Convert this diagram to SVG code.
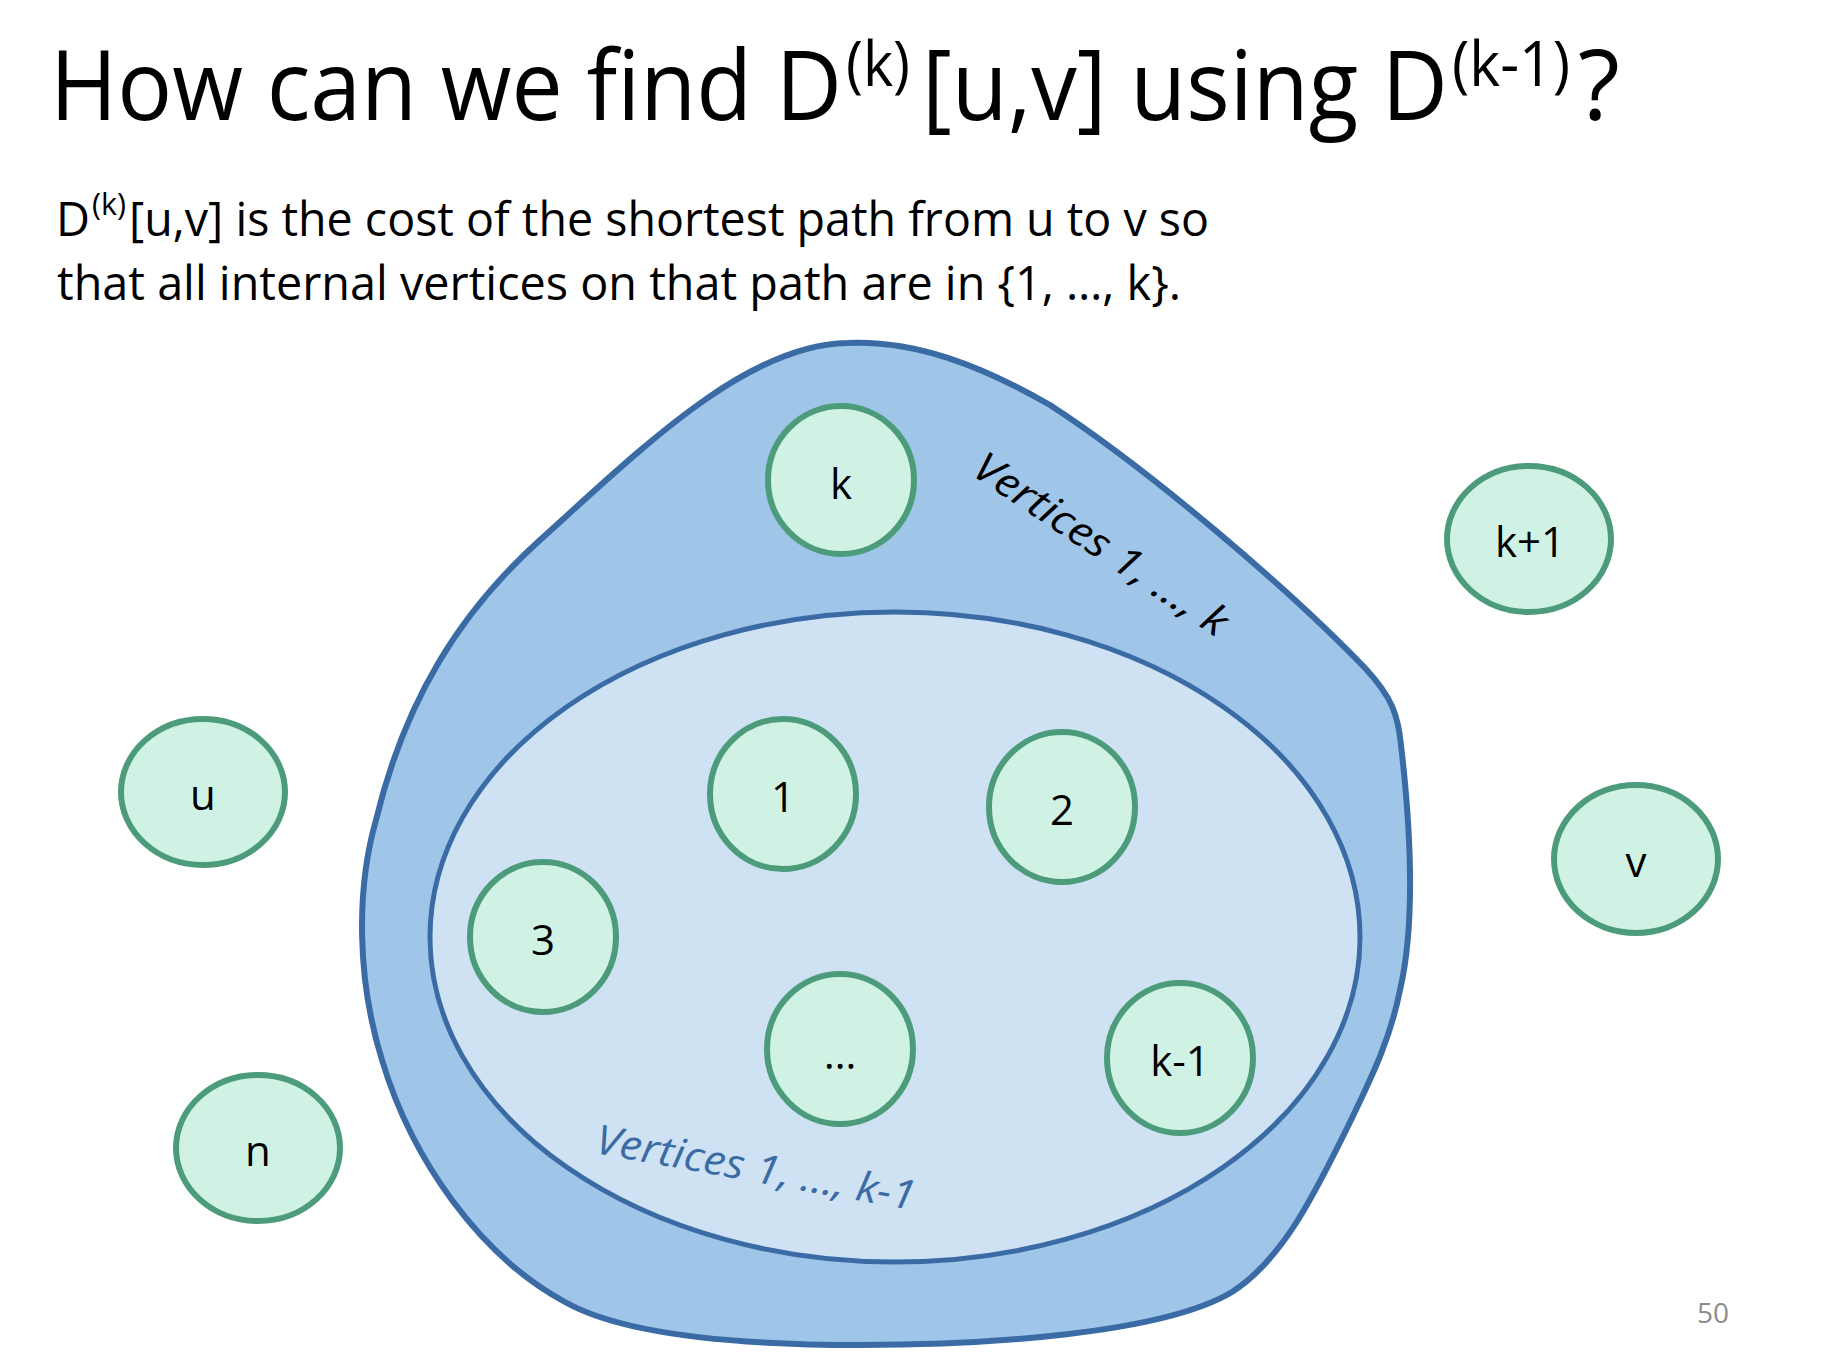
<svg xmlns="http://www.w3.org/2000/svg" width="1844" height="1372" viewBox="0 0 1844 1372">
  <style>
    .title { font-family: "Open Sans", "Noto Sans", sans-serif; font-size: 97px; fill: #000; }
    .sup { font-size: 62px; }
    .sub { font-family: "Open Sans", "Noto Sans", sans-serif; font-size: 47px; fill: #000; }
    .node ellipse { fill: #D0F2E5; stroke: #4C9B7B; stroke-width: 6; }
    .node text { font-family: "Open Sans", "Noto Sans", sans-serif; font-size: 42px; fill: #000; text-anchor: middle; }
    .set-label { font-family: "Open Sans", "Noto Sans", sans-serif; font-style: italic; font-size: 41px; }
    .pg { font-family: "Open Sans", "Noto Sans", sans-serif; font-size: 28px; fill: #8C8C8C; text-anchor: middle; }
  </style>
  <rect width="1844" height="1372" fill="#FFFFFF"/>

  <g id="title">
    <text class="title" y="120"><tspan x="50" textLength="792" lengthAdjust="spacingAndGlyphs">How can we find D</tspan><tspan class="sup" x="846" y="86" textLength="64" lengthAdjust="spacingAndGlyphs">(k)</tspan><tspan x="922" y="120" textLength="526" lengthAdjust="spacingAndGlyphs">[u,v] using D</tspan><tspan class="sup" x="1452" y="86" textLength="118" lengthAdjust="spacingAndGlyphs">(k-1)</tspan><tspan x="1578" y="120">?</tspan></text>
  </g>

  <g id="definition">
    <text class="sub" y="236"><tspan x="56" textLength="34" lengthAdjust="spacingAndGlyphs">D</tspan><tspan x="92" y="215" font-size="31" textLength="34" lengthAdjust="spacingAndGlyphs">(k)</tspan><tspan x="129" y="236" textLength="1080" lengthAdjust="spacingAndGlyphs">[u,v] is the cost of the shortest path from u to v so</tspan></text>
    <text class="sub" x="57" y="300" textLength="1124" lengthAdjust="spacingAndGlyphs">that all internal vertices on that path are in {1, …, k}.</text>
  </g>

  <g id="set-k">
    <path d="M 847 343 C 915 340 980 365 1050 405 C 1150 470 1290 590 1365 668 C 1392 697 1398 715 1401 745 C 1412 840 1414 930 1400 990 C 1390 1040 1372 1076 1352 1118 C 1314 1196 1282 1260 1232 1292 C 1162 1334 985 1345 860 1345 C 740 1345 625 1336 565 1302 C 480 1256 412 1160 382 1060 C 357 980 356 890 376 820 C 405 700 460 612 540 540 C 640 450 745 345 847 343 Z" fill="#9FC5E8" stroke="#3A6BA5" stroke-width="6"/>
    <text class="set-label" fill="#000" transform="translate(970 474) rotate(33.6)" textLength="296" lengthAdjust="spacingAndGlyphs">Vertices 1, …, k</text>
  </g>

  <g id="set-k-1">
    <ellipse cx="895" cy="937" rx="465" ry="325" fill="#CFE2F3" stroke="#3A6BA5" stroke-width="5"/>
    <text class="set-label" fill="#3A6BA5" transform="translate(594 1153) rotate(10.2)" textLength="324" lengthAdjust="spacingAndGlyphs">Vertices 1, …, k-1</text>
  </g>

  <g id="connectors"></g>

  <g id="node-k" class="node"><ellipse cx="841" cy="480" rx="73" ry="74"/><text x="841" y="499">k</text></g>
  <g id="node-k1" class="node"><ellipse cx="1529" cy="539" rx="82" ry="73"/><text x="1530" y="557">k+1</text></g>
  <g id="node-u" class="node"><ellipse cx="203" cy="792" rx="82" ry="73"/><text x="203" y="810">u</text></g>
  <g id="node-1" class="node"><ellipse cx="783" cy="794" rx="73" ry="75"/><text x="783" y="812">1</text></g>
  <g id="node-2" class="node"><ellipse cx="1062" cy="807" rx="73" ry="75"/><text x="1062" y="825">2</text></g>
  <g id="node-v" class="node"><ellipse cx="1636" cy="859" rx="82" ry="74"/><text x="1636" y="877">v</text></g>
  <g id="node-3" class="node"><ellipse cx="543" cy="937" rx="73" ry="75"/><text x="543" y="955">3</text></g>
  <g id="node-dots" class="node"><ellipse cx="840" cy="1049" rx="73" ry="75"/><text x="840" y="1069">…</text></g>
  <g id="node-k-1" class="node"><ellipse cx="1180" cy="1058" rx="73" ry="75"/><text x="1180" y="1076">k-1</text></g>
  <g id="node-n" class="node"><ellipse cx="258" cy="1148" rx="82" ry="73"/><text x="258" y="1166">n</text></g>

  <text class="pg" x="1713" y="1323">50</text>
</svg>
